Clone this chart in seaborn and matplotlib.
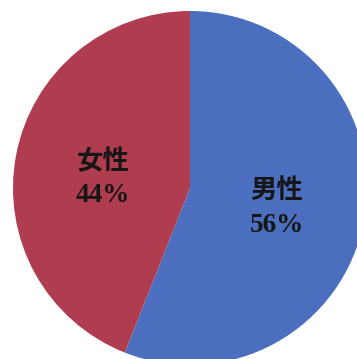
import numpy as np
import matplotlib
matplotlib.use("Agg")
import matplotlib.pyplot as plt
import seaborn as sns

sns.set_theme(style="white")
plt.rcParams['font.family'] = ['Noto Sans CJK JP', 'DejaVu Sans']

# Gender split
categories = ["男性", "女性"]
shares = [56, 44]
colors = ["#4b6ebe", "#af3d4f"]

W, H = 357, 359
fig = plt.figure(figsize=(W / 100, H / 100), dpi=100)
fig.patch.set_facecolor("white")

# Pie centre at (190, 188) px with radius 177 px; it runs past the right and bottom edges
cx, cy, r = 190, 188, 177
ax = fig.add_axes([(cx - r) / W, (H - cy - r) / H, 2 * r / W, 2 * r / H])

wedges, _ = ax.pie(shares, colors=colors, startangle=90, counterclock=False,
                   radius=1.0, wedgeprops=dict(linewidth=0))
ax.set_xlim(-1, 1)
ax.set_ylim(-1, 1)
ax.axis("off")

offsets = {"男性": (0.08, -0.12), "女性": (0.055, -0.135)}
for w, name, val in zip(wedges, categories, shares):
    mid = np.deg2rad((w.theta1 + w.theta2) / 2)
    x, y = 0.5 * np.cos(mid), 0.5 * np.sin(mid)
    up, down = offsets[name]
    ax.text(x, y + up, name, ha="center", va="center", fontsize=19,
            fontweight="bold", color="#161616")
    ax.text(x, y + down, f"{val}%", ha="center", va="center", fontsize=19.5,
            fontweight="bold", family="Liberation Serif", color="#161616")

fig.savefig("out.png", dpi=100, facecolor="white")
